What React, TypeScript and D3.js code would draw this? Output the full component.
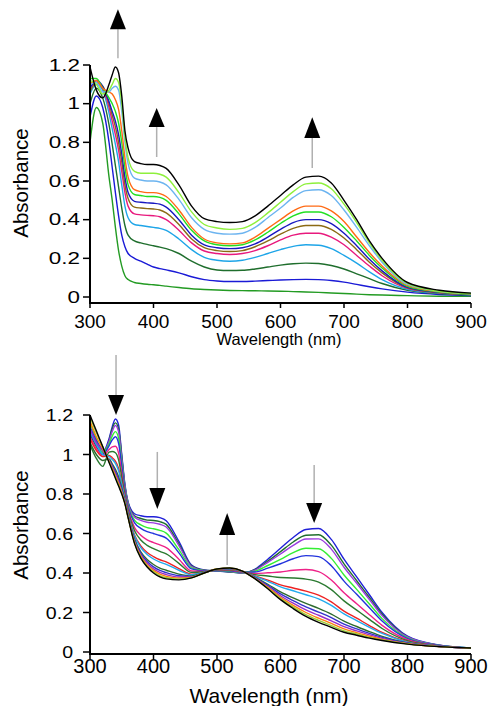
import React from "react";
import * as d3 from "d3";

// Wavelength grid (nm)
const WL = [300,310,320,330,335,340,345,350,355,360,370,380,390,400,410,420,440,460,480,500,520,540,560,580,600,620,640,660,680,700,720,740,760,800,850,900];

// ---------- Top panel series (absorbance) ----------
const T0 = [0.80,0.98,0.90,0.62,0.50,0.36,0.24,0.16,0.11,0.09,0.075,0.07,0.066,0.063,0.06,0.056,0.049,0.043,0.039,0.036,0.034,0.033,0.032,0.031,0.03,0.028,0.026,0.024,0.021,0.018,0.015,0.012,0.01,0.007,0.004,0.003];
const T1 = [0.93,1.04,0.98,0.80,0.67,0.54,0.42,0.32,0.26,0.225,0.20,0.185,0.17,0.155,0.147,0.14,0.125,0.105,0.09,0.083,0.08,0.08,0.082,0.085,0.088,0.09,0.091,0.09,0.085,0.077,0.065,0.053,0.042,0.025,0.013,0.008];
const T2 = [1.00,1.08,1.03,0.89,0.79,0.68,0.57,0.46,0.37,0.32,0.29,0.28,0.272,0.265,0.258,0.25,0.225,0.185,0.155,0.14,0.137,0.138,0.145,0.155,0.165,0.172,0.175,0.173,0.163,0.145,0.12,0.095,0.07,0.035,0.018,0.01];
const T3 = [1.05,1.10,1.07,0.95,0.87,0.79,0.70,0.58,0.47,0.41,0.375,0.37,0.365,0.36,0.355,0.345,0.30,0.245,0.205,0.19,0.185,0.19,0.205,0.225,0.245,0.262,0.27,0.268,0.25,0.215,0.175,0.13,0.09,0.04,0.02,0.012];
const T4 = [1.07,1.11,1.08,0.98,0.91,0.84,0.76,0.65,0.54,0.47,0.43,0.425,0.422,0.42,0.415,0.40,0.345,0.28,0.238,0.225,0.22,0.225,0.24,0.265,0.295,0.32,0.33,0.33,0.31,0.27,0.215,0.16,0.11,0.045,0.022,0.013];
const T5 = [1.06,1.11,1.09,1.00,0.94,0.88,0.80,0.70,0.58,0.51,0.465,0.46,0.457,0.455,0.45,0.435,0.375,0.30,0.255,0.24,0.235,0.24,0.26,0.29,0.325,0.355,0.37,0.37,0.35,0.305,0.245,0.18,0.125,0.048,0.023,0.014];
const T6 = [1.08,1.12,1.09,1.01,0.96,0.91,0.84,0.74,0.62,0.54,0.495,0.49,0.487,0.485,0.48,0.465,0.40,0.32,0.27,0.255,0.25,0.255,0.275,0.31,0.35,0.385,0.40,0.40,0.38,0.33,0.265,0.195,0.135,0.05,0.024,0.014];
const T7 = [1.13,1.13,1.08,1.03,1.00,0.96,0.90,0.80,0.67,0.58,0.53,0.525,0.52,0.52,0.515,0.50,0.43,0.345,0.29,0.27,0.265,0.27,0.295,0.335,0.38,0.42,0.44,0.44,0.415,0.36,0.29,0.215,0.15,0.055,0.026,0.015];
const T8 = [1.10,1.12,1.08,1.06,1.05,1.02,0.97,0.86,0.72,0.62,0.555,0.545,0.54,0.54,0.535,0.52,0.45,0.36,0.30,0.28,0.275,0.28,0.31,0.355,0.40,0.445,0.47,0.47,0.445,0.39,0.31,0.23,0.16,0.06,0.028,0.016];
const T9 = [1.10,1.11,1.06,1.06,1.08,1.09,1.07,0.96,0.80,0.69,0.615,0.605,0.60,0.60,0.595,0.58,0.505,0.41,0.35,0.33,0.325,0.33,0.36,0.41,0.46,0.515,0.55,0.555,0.525,0.45,0.36,0.265,0.18,0.065,0.03,0.018];
const T10 = [1.12,1.10,1.05,1.07,1.10,1.13,1.11,1.00,0.83,0.72,0.65,0.64,0.64,0.64,0.635,0.62,0.54,0.44,0.375,0.357,0.35,0.355,0.385,0.435,0.49,0.545,0.585,0.59,0.56,0.48,0.385,0.28,0.19,0.07,0.03,0.018];
const T11 = [1.19,1.07,1.03,1.10,1.15,1.19,1.16,1.04,0.86,0.77,0.70,0.69,0.685,0.685,0.68,0.665,0.58,0.47,0.405,0.39,0.385,0.39,0.42,0.47,0.525,0.58,0.62,0.625,0.59,0.50,0.40,0.29,0.20,0.075,0.035,0.02];
const TOP_SERIES = [T0,T1,T2,T3,T4,T5,T6,T7,T8,T9,T10,T11];
const TOP_COLORS = ["#239b23","#1a1ad6","#1f6e2d","#1ea5e8","#e8197d","#8b6a14","#1818c0","#22e022","#ff6a14","#6cb4f0","#8ef03c","#000000"];

// ---------- Bottom panel series ----------
const B0 = [1.12,1.05,1.01,1.08,1.14,1.18,1.15,1.00,0.85,0.76,0.70,0.69,0.685,0.685,0.68,0.665,0.56,0.44,0.415,0.41,0.405,0.40,0.42,0.47,0.525,0.58,0.62,0.625,0.57,0.47,0.38,0.29,0.20,0.08,0.035,0.02];
const B1 = [1.10,1.04,1.00,1.07,1.13,1.16,1.13,0.99,0.84,0.755,0.69,0.676,0.668,0.666,0.66,0.646,0.547,0.436,0.414,0.411,0.406,0.401,0.417,0.46,0.508,0.557,0.591,0.594,0.541,0.446,0.361,0.276,0.191,0.077,0.034,0.02];
const B2 = [1.13,1.06,1.00,1.067,1.116,1.147,1.116,0.978,0.839,0.751,0.684,0.666,0.657,0.654,0.647,0.633,0.539,0.433,0.413,0.411,0.407,0.401,0.415,0.454,0.496,0.54,0.572,0.573,0.521,0.429,0.348,0.266,0.184,0.076,0.034,0.02];
const B3 = [1.16,1.08,1.01,1.054,1.093,1.116,1.083,0.957,0.829,0.743,0.668,0.644,0.63,0.624,0.616,0.602,0.518,0.426,0.412,0.412,0.409,0.402,0.409,0.438,0.469,0.503,0.525,0.523,0.474,0.39,0.317,0.243,0.169,0.071,0.033,0.02];
const B4 = [1.11,1.05,1.00,1.044,1.074,1.09,1.057,0.94,0.82,0.736,0.655,0.626,0.609,0.60,0.59,0.577,0.502,0.421,0.411,0.413,0.411,0.403,0.405,0.425,0.447,0.472,0.488,0.483,0.437,0.359,0.292,0.224,0.157,0.068,0.033,0.02];
const B5 = [1.09,1.03,0.99,1.025,1.039,1.042,1.007,0.908,0.804,0.723,0.631,0.591,0.568,0.554,0.542,0.529,0.47,0.41,0.408,0.415,0.414,0.405,0.397,0.401,0.405,0.414,0.418,0.407,0.365,0.30,0.244,0.189,0.135,0.062,0.031,0.02];
const B6 = [1.05,0.98,0.94,1.012,1.015,1.009,0.973,0.886,0.793,0.714,0.615,0.567,0.54,0.523,0.509,0.497,0.449,0.403,0.406,0.416,0.416,0.406,0.392,0.385,0.377,0.375,0.369,0.354,0.316,0.259,0.212,0.165,0.119,0.057,0.03,0.02];
const B7 = [1.08,1.02,0.99,0.995,0.984,0.967,0.93,0.858,0.779,0.703,0.594,0.537,0.504,0.483,0.467,0.456,0.422,0.394,0.404,0.417,0.419,0.407,0.385,0.364,0.34,0.324,0.308,0.288,0.254,0.207,0.171,0.134,0.099,0.052,0.029,0.02];
const B8 = [1.12,1.05,1.00,0.99,0.975,0.955,0.918,0.85,0.775,0.70,0.588,0.529,0.494,0.471,0.455,0.444,0.414,0.391,0.404,0.417,0.42,0.407,0.383,0.358,0.33,0.31,0.29,0.269,0.236,0.193,0.159,0.125,0.094,0.05,0.029,0.02];
const B9 = [1.06,1.00,0.97,0.978,0.953,0.925,0.887,0.83,0.765,0.692,0.573,0.507,0.468,0.443,0.425,0.414,0.394,0.385,0.402,0.418,0.422,0.408,0.378,0.343,0.304,0.274,0.246,0.221,0.192,0.156,0.129,0.103,0.079,0.046,0.028,0.02];
const B10 = [1.14,1.07,1.02,0.973,0.944,0.913,0.874,0.822,0.761,0.689,0.567,0.499,0.458,0.431,0.413,0.402,0.386,0.382,0.402,0.419,0.423,0.409,0.376,0.337,0.294,0.26,0.228,0.202,0.174,0.141,0.117,0.094,0.074,0.044,0.028,0.02];
const B11 = [1.13,1.06,1.02,0.969,0.937,0.903,0.863,0.815,0.758,0.686,0.561,0.491,0.449,0.421,0.403,0.392,0.38,0.38,0.401,0.419,0.424,0.409,0.374,0.331,0.285,0.247,0.213,0.186,0.158,0.128,0.107,0.087,0.069,0.043,0.028,0.02];
const B12 = [1.17,1.09,1.03,0.965,0.93,0.894,0.854,0.809,0.755,0.684,0.557,0.485,0.441,0.413,0.394,0.383,0.374,0.378,0.401,0.42,0.424,0.41,0.372,0.327,0.277,0.236,0.20,0.171,0.145,0.117,0.098,0.08,0.064,0.042,0.027,0.02];
const B13 = [1.19,1.11,1.04,0.962,0.924,0.886,0.846,0.804,0.752,0.682,0.553,0.479,0.435,0.406,0.386,0.376,0.369,0.376,0.40,0.42,0.425,0.41,0.371,0.323,0.27,0.227,0.189,0.16,0.134,0.107,0.091,0.074,0.061,0.041,0.027,0.02];
const B14 = [1.20,1.12,1.04,0.96,0.92,0.88,0.84,0.80,0.75,0.68,0.55,0.475,0.43,0.40,0.38,0.37,0.365,0.375,0.40,0.42,0.425,0.41,0.37,0.32,0.265,0.22,0.18,0.15,0.125,0.10,0.085,0.07,0.058,0.04,0.027,0.02];
const BOTTOM_SERIES = [B0,B1,B2,B3,B4,B5,B6,B7,B8,B9,B10,B11,B12,B13,B14];
const BOTTOM_COLORS = ["#1f1fd8","#1f6e2d","#9a3ce0","#33ee33","#2233dd","#ee2288","#2a7a30","#ee2222","#22aaee","#2e6b2e","#3333cc","#9b30c8","#ff7f0e","#99cc33","#000000"];

// ---------- Axes ----------
const X_TICKS = [300,400,500,600,700,800,900];
const Y_TICKS = [0,0.2,0.4,0.6,0.8,1,1.2];
const Y_TICK_LABELS = ["0","0.2","0.4","0.6","0.8","1","1.2"];

// Arrows: wavelength, tip, base, tail (absorbance units)
const TOP_ARROWS = [
  { wl: 344, tip: 1.488, base: 1.385, tail: 1.235 },
  { wl: 405, tip: 0.977, base: 0.879, tail: 0.724 },
  { wl: 650, tip: 0.930, base: 0.822, tail: 0.667 },
];
const BOTTOM_ARROWS = [
  { wl: 341, tip: 1.20, base: 1.301, tail: 1.504 },
  { wl: 406, tip: 0.724, base: 0.830, tail: 1.013 },
  { wl: 516, tip: 0.704, base: 0.592, tail: 0.44 },
  { wl: 653, tip: 0.653, base: 0.754, tail: 0.947 },
];

const FONT = "'Liberation Sans', Arial, Helvetica, sans-serif";

type PanelProps = {
  series: number[][];
  colors: string[];
  y0: number;
  y12: number;
  axisY: number;
  arrows: { wl: number; tip: number; base: number; tail: number }[];
  yLabelX: number;
  yLabelSize: number;
  yLabelScale: number;
  xLabelSize: number;
  xLabelBaseline: number;
  titleSize: number;
  titleX: number;
  titleBaseline: number;
  absCenter: number;
  absSize: number;
};

function Panel(p: PanelProps) {
  const x = d3.scaleLinear().domain([300, 900]).range([90, 471]);
  const y = d3.scaleLinear().domain([0, 1.2]).range([p.y0, p.y12]);
  const line = d3
    .line<number>()
    .x((_, i) => x(WL[i]))
    .y((v) => y(v))
    .curve(d3.curveMonotoneX);
  return (
    <g>
      {p.series.map((s, i) => (
        <path key={i} d={line(s) || ""} fill="none" stroke={p.colors[i]} strokeWidth={1.4} />
      ))}
      <line x1={90} x2={90} y1={p.y12} y2={p.axisY + 1} stroke="#000" strokeWidth={2} />
      <line x1={89} x2={471} y1={p.axisY} y2={p.axisY} stroke="#000" strokeWidth={2} />
      {Y_TICKS.map((t, i) => (
        <g key={i}>
          <line x1={83} x2={90} y1={y(t)} y2={y(t)} stroke="#000" strokeWidth={1.5} />
          <text
            transform={`translate(${p.yLabelX},${y(t)}) scale(${p.yLabelScale},1)`}
            textAnchor="end"
            dy="0.36em"
            fontSize={p.yLabelSize}
            fontFamily={FONT}
          >
            {Y_TICK_LABELS[i]}
          </text>
        </g>
      ))}
      {X_TICKS.map((t) => (
        <g key={t}>
          <line x1={x(t)} x2={x(t)} y1={p.axisY} y2={p.axisY + 5} stroke="#000" strokeWidth={1.5} />
          <text x={x(t)} y={p.xLabelBaseline} textAnchor="middle" fontSize={p.xLabelSize} fontFamily={FONT}>
            {t}
          </text>
        </g>
      ))}
      <text x={p.titleX} y={p.titleBaseline} textAnchor="middle" fontSize={p.titleSize} fontFamily={FONT}>
        Wavelength (nm)
      </text>
      <text
        transform={`translate(28,${p.absCenter}) rotate(-90)`}
        textAnchor="middle"
        fontSize={p.absSize}
        fontFamily={FONT}
      >
        Absorbance
      </text>
      {p.arrows.map((a, i) => {
        const ax = x(a.wl);
        const tipY = y(a.tip);
        const baseY = y(a.base);
        return (
          <g key={i}>
            <line x1={ax} x2={ax} y1={baseY} y2={y(a.tail)} stroke="#b0b0b0" strokeWidth={1.5} />
            <path d={`M${ax - 8},${baseY} L${ax + 8},${baseY} L${ax},${tipY} Z`} fill="#000" />
          </g>
        );
      })}
    </g>
  );
}

export default function App() {
  return (
    <svg
      width={499}
      height={706}
      style={{ position: "absolute", left: 0, top: 0, background: "#fff" }}
    >
      <rect width={499} height={706} fill="#fff" />
      <Panel
        series={TOP_SERIES}
        colors={TOP_COLORS}
        y0={297}
        y12={65}
        axisY={303}
        arrows={TOP_ARROWS}
        yLabelX={80}
        yLabelSize={16}
        yLabelScale={1.4}
        xLabelSize={19}
        xLabelBaseline={328}
        titleSize={16.5}
        titleX={279}
        titleBaseline={345}
        absCenter={183}
        absSize={20.5}
      />
      <Panel
        series={BOTTOM_SERIES}
        colors={BOTTOM_COLORS}
        y0={652}
        y12={415}
        axisY={654}
        arrows={BOTTOM_ARROWS}
        yLabelX={73}
        yLabelSize={17}
        yLabelScale={1.15}
        xLabelSize={20}
        xLabelBaseline={673}
        titleSize={21}
        titleX={269}
        titleBaseline={703}
        absCenter={525}
        absSize={20.5}
      />
    </svg>
  );
}
